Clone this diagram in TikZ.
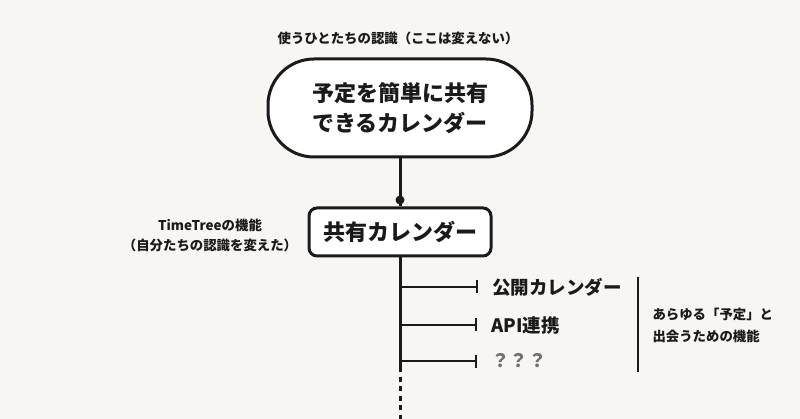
\documentclass[tikz,border=0pt]{standalone}
\usepackage{fontspec}
\setmainfont{Noto Sans CJK JP}
\usetikzlibrary{positioning, arrows.meta}
\definecolor{paper}{HTML}{F7F6F2}
\definecolor{ink}{HTML}{1A1A1A}
\definecolor{qgray}{HTML}{707070}

\begin{document}
\begin{tikzpicture}[
    x=1pt, y=-1pt,
    font=\bfseries, text=ink,
    pill/.style={draw=ink, line width=3pt, rectangle, rounded corners=46pt, fill=white, minimum width=264pt, minimum height=98pt, align=center, font=\bfseries\fontsize{22}{30}\selectfont},
    box/.style={draw=ink, line width=3pt, rectangle, rounded corners=8pt, fill=white, minimum width=182pt, minimum height=48pt, font=\bfseries\fontsize{22}{26}\selectfont},
    note/.style={align=center, font=\bfseries\fontsize{13.4}{20}\selectfont},
    item/.style={anchor=west, inner sep=0pt, font=\bfseries\fontsize{18.5}{22}\selectfont},
    link/.style={draw=ink, line width=3pt},
    branch/.style={draw=ink, line width=2.5pt, -{Bar[width=13pt]}, shorten >=14pt},
    divider/.style={draw=ink, line width=1.3pt}
]
    \fill[paper] (0,0) rectangle (800,419);
    \useasboundingbox (0,0) rectangle (800,419);

    \node[note] (users) at (398,38) {使うひとたちの認識（ここは変えない）};
    \node[pill] (idea) at (400,108) {予定を簡単に共有\\できるカレンダー};

    \node[circle, fill=ink, inner sep=0pt, minimum size=9pt] (dot) at (400,200) {};
    \node[box] (shared) at (400,232) {共有カレンダー};
    \node[note] (feature) at (210,235) {TimeTreeの機能\\（自分たちの認識を変えた）};

    \coordinate (j1) at (400,287);
    \coordinate (j2) at (400,325);
    \coordinate (j3) at (400,361);
    \coordinate (solidend) at (400,372);
    \coordinate (bottom) at (400,419);

    \node[item] (public) at (492,287) {公開カレンダー};
    \node[item] (api) at (491,325) {API連携};
    \node[item, text=qgray] (unknown) at (491,361) {？？？};

    \coordinate (divtop) at (638,277);
    \coordinate (divbot) at (638,372);
    \node[note, align=left, anchor=west, font=\bfseries\fontsize{13.4}{21.5}\selectfont] (meet) at (649,325.5) {あらゆる「予定」と\\出会うための機能};

    \draw[link] (idea.south) -- (shared.north);
    \draw[link] (shared.south) -- (solidend);
    \draw[link, dash pattern=on 5pt off 4.5pt] (solidend) ++(0,4.5) -- (bottom);

    \draw[branch] (j1) -- (public.west);
    \draw[branch] (j2) -- (api.west);
    \draw[branch] (j3) -- (unknown.west);

    \draw[divider] (divtop) -- (divbot);

\end{tikzpicture}
\end{document}
